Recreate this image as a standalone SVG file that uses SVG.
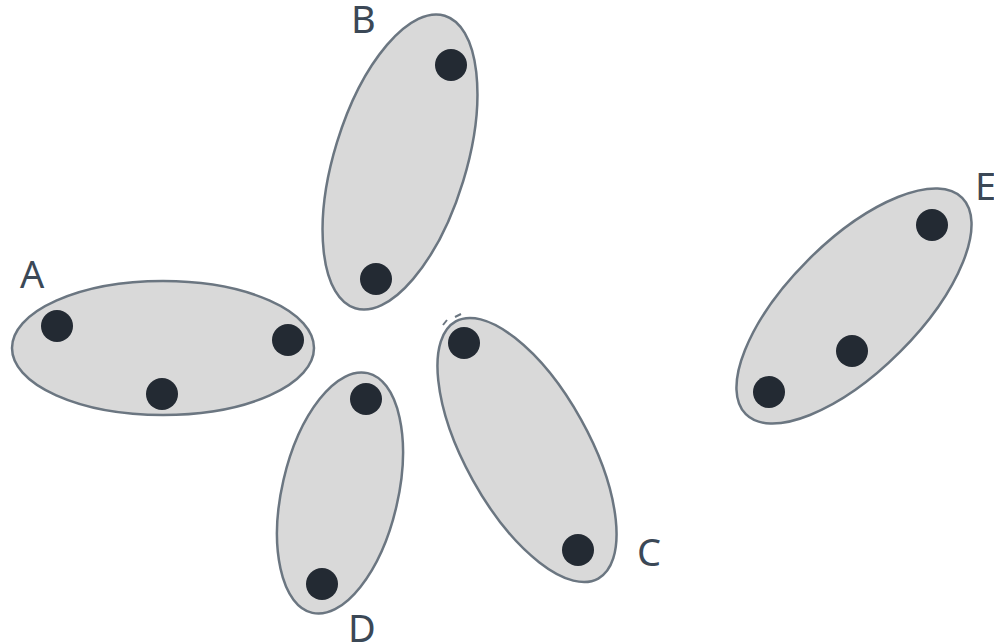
<svg xmlns="http://www.w3.org/2000/svg" width="994" height="644" viewBox="0 0 994 644">
<style>
.set{fill:#d9d9d9;stroke:#6b7681;stroke-width:2.5}
.pt{fill:#232a33}
.lbl{font-family:"Noto Sans","Liberation Sans",sans-serif;font-size:38px;fill:#3b4856}
</style>
<rect width="994" height="644" fill="#ffffff"/>
<g id="A">
<ellipse class="set" cx="163" cy="348" rx="151" ry="67"/>
<circle class="pt" cx="57" cy="326" r="16"/>
<circle class="pt" cx="288" cy="340" r="16"/>
<circle class="pt" cx="162" cy="394" r="16"/>
<text class="lbl" x="20" y="288">A</text>
</g>
<g id="B">
<ellipse class="set" cx="400" cy="162" rx="66" ry="153" transform="rotate(17 400 162)"/>
<circle class="pt" cx="451" cy="65" r="16"/>
<circle class="pt" cx="376" cy="279" r="16"/>
<text class="lbl" x="351" y="33">B</text>
</g>
<g id="C">
<ellipse class="set" cx="527" cy="450" rx="62" ry="147" transform="rotate(-29 527 450)"/>
<path d="M443,325 L447,320 M455,317 L461,314" fill="none" stroke="#6b7681" stroke-width="2"/>
<circle class="pt" cx="464" cy="343" r="16"/>
<circle class="pt" cx="578" cy="550" r="16"/>
<text class="lbl" x="637" y="566">C</text>
</g>
<g id="D">
<ellipse class="set" cx="340" cy="493" rx="58" ry="123" transform="rotate(13 340 493)"/>
<circle class="pt" cx="366" cy="399" r="16"/>
<circle class="pt" cx="322" cy="584" r="16"/>
<text class="lbl" x="348" y="642">D</text>
</g>
<g id="E">
<ellipse class="set" cx="854" cy="306" rx="65" ry="153" transform="rotate(45 854 306)"/>
<circle class="pt" cx="932" cy="225" r="16"/>
<circle class="pt" cx="852" cy="351" r="16"/>
<circle class="pt" cx="769" cy="392" r="16"/>
<text class="lbl" x="975" y="200">E</text>
</g>
<g id="connectors"></g>
</svg>
